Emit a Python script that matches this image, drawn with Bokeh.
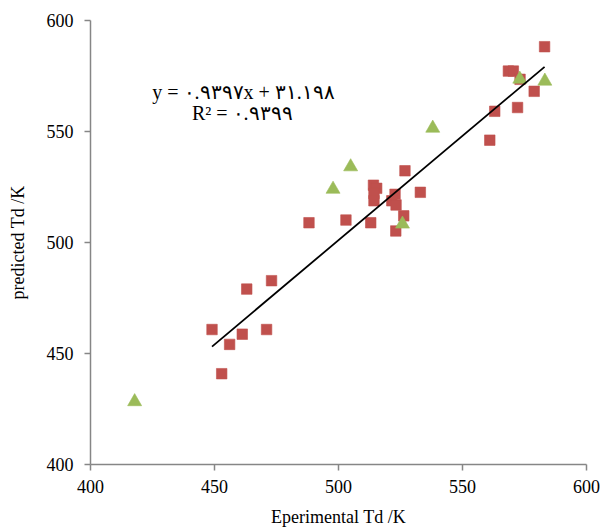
from bokeh.plotting import figure
from bokeh.models import Range1d, Label, FixedTicker
from bokeh.embed import file_html
from bokeh.resources import INLINE

# Series 1 (red squares)
red_x = [473.0, 463.0, 449.0, 461.2, 471.0, 456.1, 452.9,
         526.8, 514.1, 515.4, 514.3, 514.3, 522.8, 521.5, 523.2, 533.0,
         526.3, 523.1, 513.0, 503.0, 488.1,
         583.1, 568.5, 570.5, 573.2, 578.9, 572.2, 563.0, 561.0]
red_y = [482.8, 479.0, 460.8, 458.7, 460.8, 454.1, 440.9,
         532.3, 525.8, 524.4, 522.1, 518.8, 521.7, 518.8, 516.9, 522.6,
         512.0, 505.2, 508.9, 510.1, 508.9,
         588.2, 577.2, 577.2, 573.5, 568.1, 560.8, 559.1, 546.1]

# Series 2 (green triangles)
green_x = [504.9, 497.8, 525.8, 573.1, 583.2, 538.0, 417.8]
green_y = [534.1, 524.0, 508.3, 573.6, 572.7, 551.5, 428.3]

# Trendline
slope = 0.9397
intercept = 31.198
eq_text = "y = ٠.٩٣٩٧x + ٣١.١٩٨"
r2_text = "R² = ٠.٩٣٩٩"

ticks = [400, 450, 500, 550, 600]

FONT = "Liberation Serif"
AXIS_COLOR = "#868686"

p = figure(width=603, height=529, output_backend="svg", toolbar_location=None,
           x_range=Range1d(400, 600), y_range=Range1d(400, 600),
           min_border_left=90, min_border_right=17, min_border_top=20,
           min_border_bottom=64)
p.outline_line_color = None
p.xgrid.visible = False
p.ygrid.visible = False
p.background_fill_color = "white"
p.border_fill_color = "white"

for ax in (p.xaxis[0], p.yaxis[0]):
    ax.ticker = FixedTicker(ticks=ticks)
    ax.minor_tick_line_color = None
    ax.axis_line_color = AXIS_COLOR
    ax.axis_line_width = 1.5
    ax.major_tick_line_color = AXIS_COLOR
    ax.major_tick_line_width = 1.5
    ax.major_tick_in = 0
    ax.major_tick_out = 6
    ax.major_label_text_font = FONT
    ax.major_label_text_font_size = "18px"
    ax.major_label_text_color = "black"
    ax.axis_label_text_font = FONT
    ax.axis_label_text_font_size = "18px"
    ax.axis_label_text_font_style = "normal"
    ax.axis_label_text_color = "black"

p.xaxis.axis_label = "Eperimental Td /K"
p.yaxis.axis_label = "predicted Td /K"
p.xaxis.major_label_standoff = 9
p.xaxis.axis_label_standoff = 11
p.yaxis.major_label_standoff = 11
p.yaxis.axis_label_standoff = 16

p.scatter(red_x, red_y, marker="square", size=10.5, fill_color="#C0504D",
          line_color="#C0504D", line_alpha=0.6)
p.scatter(green_x, green_y, marker="triangle", size=14, fill_color="#9BBB59",
          line_color="#9BBB59", line_alpha=0.6)

x0 = min(red_x)
x1 = max(red_x)
p.line([x0, x1], [slope * x0 + intercept, slope * x1 + intercept],
       line_color="black", line_width=1.8)

p.add_layout(Label(x=461.7, y=567.6, text=eq_text, text_align="center",
                   text_baseline="middle", text_font=FONT,
                   text_font_size="20px", text_color="black"))
p.add_layout(Label(x=461.2, y=558.2, text=r2_text, text_align="center",
                   text_baseline="middle", text_font=FONT,
                   text_font_size="20px", text_color="black"))

open("out.html", "w").write(file_html(p, INLINE))
